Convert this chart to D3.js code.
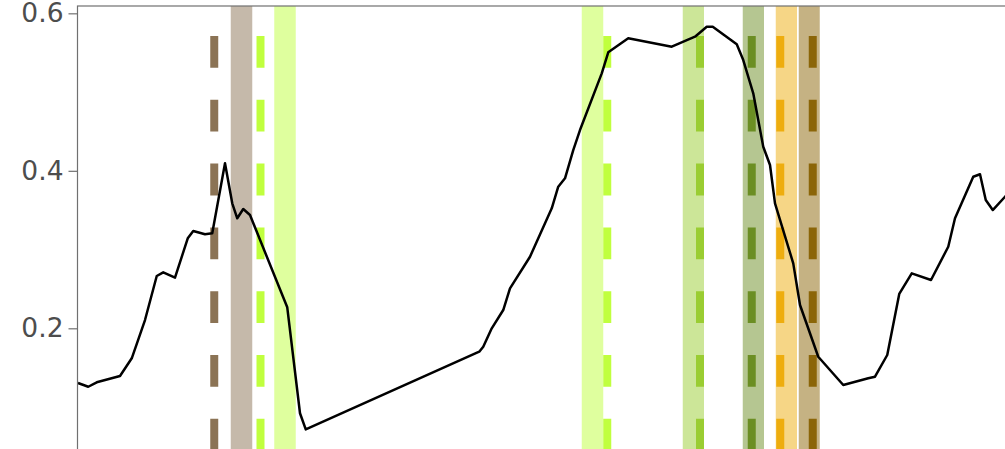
<!DOCTYPE html>
<html>
<head>
<meta charset="utf-8">
<script src="https://cdn.jsdelivr.net/npm/d3@7"></script>
<style>
  html, body { margin: 0; padding: 0; background: #ffffff; }
  svg { display: block; }
</style>
</head>
<body>
<svg id="chart" width="1005" height="449"></svg>
<script>
// ---------- data ----------
const days = [0, 4.1, 7.5, 16.8, 21.5, 26.8, 31.5, 34.1, 38.8, 43.9, 46.1, 50.8, 53.7, 58.8, 61.7, 63.7, 66.1, 68.8,
  83.7, 88.8, 91.1, 160.5, 162.1, 165.5, 170.1, 172.8, 180.8, 189.5, 192.1, 194.8, 198.1, 200.8, 209.5, 212.1,
  220.1, 237.5, 246.8, 251.5, 253.9, 263.5, 266.1, 270.1, 274.1, 276.8, 278.8, 286.1, 288.8, 296.1, 306.1,
  316.1, 318.8, 323.7, 328.5, 333.5, 341.2, 348.1, 350.8, 358.1, 360.8, 363.1, 365.9, 370.8, 374];
const values = [0.1305, 0.1258, 0.1314, 0.1394, 0.1619, 0.2105, 0.2664, 0.2711, 0.2643, 0.3143, 0.3236, 0.3194, 0.3206,
  0.4095, 0.3587, 0.3397, 0.3515, 0.3439, 0.2267, 0.0921, 0.0717, 0.1703, 0.1766, 0.2000, 0.2232, 0.2508,
  0.2909, 0.3524, 0.3798, 0.3905, 0.4264, 0.4518, 0.5238, 0.5505, 0.5683, 0.5576, 0.5703, 0.5830, 0.5830,
  0.5606, 0.5407, 0.4984, 0.4306, 0.4074, 0.3587, 0.2825, 0.2296, 0.1639, 0.1280, 0.1365, 0.1385, 0.1661,
  0.2436, 0.2698, 0.2613, 0.3036, 0.3397, 0.3925, 0.3956, 0.3629, 0.3502, 0.3671, 0.3760];

const phases = ["Greenup", "MidGreenup", "Maturity", "Senescence", "MidGreendown", "Dormancy"];

// observed windows (bands)
const obsPhase = ["Dormancy", "Greenup", "Greenup", "MidGreenup", "Maturity", "Senescence", "MidGreendown"];
const obsStart = [61.1, 78.5, 201.5, 241.9, 265.9, 279.1, 288.3];
const obsEnd   = [69.7, 87.1, 210.1, 250.4, 274.4, 287.6, 296.7];

// predicted dates (dashed lines)
const predPhase = ["Dormancy", "Greenup", "Greenup", "MidGreenup", "Maturity", "Senescence", "MidGreendown"];
const predDay   = [54.5, 73.0, 211.7, 248.8, 269.5, 280.9, 293.9];

const yTicks = [0.2, 0.4, 0.6];

// ---------- styles ----------
const palette = ["#C0FF3E", "#9ACD32", "#6B8E23", "#EEAD0E", "#8B6508", "#8B7355"];

// ---------- layout ----------
const svg = d3.select("#chart");
const pL = 77.5, pT = 6, pR = 1010, pB = 460;

const x = d3.scaleLinear().domain([0, 372]).range([78, 1008]);
const y = d3.scaleLinear().domain([0.04, 0.6093]).range([454.3, 6]);
const color = d3.scaleOrdinal().domain(phases).range(palette);

svg.append("defs").append("clipPath").attr("id", "clip")
  .append("rect").attr("x", pL).attr("y", pT).attr("width", pR - pL).attr("height", pB - pT);

const g = svg.append("g").attr("clip-path", "url(#clip)");

// bands
g.selectAll("rect.band").data(obsStart.map((s, i) => ({ s, e: obsEnd[i], p: obsPhase[i] })))
  .join("rect").attr("class", "band")
  .attr("x", d => x(d.s)).attr("width", d => x(d.e) - x(d.s))
  .attr("y", pT).attr("height", pB - pT)
  .attr("fill", d => color(d.p)).attr("fill-opacity", 0.5);

// dashed predicted lines
g.selectAll("line.pred").data(predDay.map((d, i) => ({ d, p: predPhase[i] })))
  .join("line").attr("class", "pred")
  .attr("x1", d => x(d.d)).attr("x2", d => x(d.d))
  .attr("y1", pT).attr("y2", pB)
  .attr("stroke", d => color(d.p)).attr("stroke-width", 8)
  .attr("stroke-dasharray", "31.8,32").attr("stroke-dashoffset", 33.8);

// series line
const line = d3.line().x((d, i) => x(days[i])).y(d => y(d));
g.append("path").datum(values)
  .attr("d", line).attr("fill", "none")
  .attr("stroke", "#000").attr("stroke-width", 2.5)
  .attr("stroke-linejoin", "round");

// panel border
svg.append("rect").attr("x", pL).attr("y", pT)
  .attr("width", pR - pL).attr("height", pB - pT)
  .attr("fill", "none").attr("stroke", "#707070").attr("stroke-width", 1.2);

// y axis
const yAxis = d3.axisLeft(y).tickValues(yTicks).tickFormat(d3.format(".1f"))
  .tickSize(9).tickPadding(5);
const ax = svg.append("g").attr("transform", `translate(${pL},0)`).call(yAxis);
ax.select(".domain").remove();
ax.selectAll(".tick line").attr("stroke", "#707070").attr("stroke-width", 1.2);
ax.selectAll(".tick text")
  .attr("fill", "#4d4d4d")
  .style("font-family", "DejaVu Sans")
  .style("font-size", "26.5px");
</script>
</body>
</html>
